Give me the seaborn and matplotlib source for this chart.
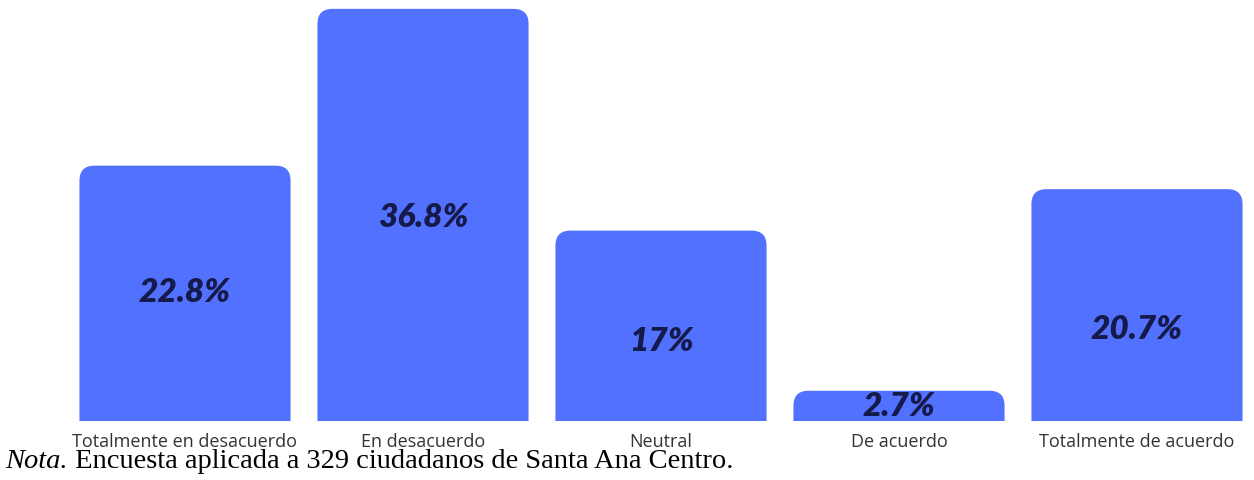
import matplotlib
matplotlib.use("Agg")
import matplotlib.pyplot as plt
import seaborn as sns
from matplotlib.patches import FancyBboxPatch

# ===== Data =====
categories = ["Totalmente en desacuerdo", "En desacuerdo", "Neutral",
              "De acuerdo", "Totalmente de acuerdo"]
values = [22.8, 36.8, 17, 2.7, 20.7]
value_labels = ["22.8%", "36.8%", "17%", "2.7%", "20.7%"]

# label heights (data units) as placed in the original
label_y = [11.6, 18.3, 7.2, 1.4, 8.3]

BAR_COLOR = "#5371FF"
TEXT_COLOR = "#161A4A"

W, H, DPI = 1254, 481, 100
fig = plt.figure(figsize=(W / DPI, H / DPI), dpi=DPI)
sns.set_style("white")

# axes geometry in pixels
ax_bottom_px = 422
ax = fig.add_axes([0, (H - ax_bottom_px) / H, 1, ax_bottom_px / H])

sns.barplot(x=categories, y=values, color=BAR_COLOR, width=0.887,
            saturation=1, ax=ax)

x0_px, pitch_px = 185, 238
ax.set_xlim(-x0_px / pitch_px, (W - x0_px) / pitch_px)
ymax = 37.68
ax.set_ylim(0, ymax)

# rounded top corners
px_per_x = pitch_px
px_per_y = ax_bottom_px / ymax
radius_px = 15
rx = radius_px / px_per_x
aspect = px_per_x / px_per_y
for p in list(ax.patches):
    x, w, h = p.get_x(), p.get_width(), p.get_height()
    p.remove()
    ry = rx * aspect
    box = FancyBboxPatch((x, -ry), w, h + ry,
                         boxstyle=f"round,pad=0,rounding_size={rx}",
                         mutation_aspect=aspect, facecolor=BAR_COLOR,
                         edgecolor="none", clip_on=True)
    ax.add_patch(box)

for i, (lab, y) in enumerate(zip(value_labels, label_y)):
    ax.text(i, y, lab, ha="center", va="center", fontsize=24,
            fontweight="heavy", fontstyle="italic", family="Lato",
            color=TEXT_COLOR)

sns.despine(ax=ax, left=True, bottom=True)
ax.set_yticks([])
ax.tick_params(axis="x", length=0, pad=8, labelsize=13, labelcolor="#333333")
for t in ax.get_xticklabels():
    t.set_family("Open Sans")
ax.set_xlabel("")
ax.set_ylabel("")

# note line
t1 = fig.text(5 / W, 13 / H, "Nota.", family="Liberation Serif",
              fontstyle="italic", fontsize=20.5, color="black",
              ha="left", va="baseline")
ax.annotate(" Encuesta aplicada a 329 ciudadanos de Santa Ana Centro.",
            xy=(1, 0), xycoords=t1, ha="left", va="bottom",
            family="Liberation Serif", fontsize=20.5, color="black",
            annotation_clip=False)

fig.savefig("out.png", dpi=DPI)
